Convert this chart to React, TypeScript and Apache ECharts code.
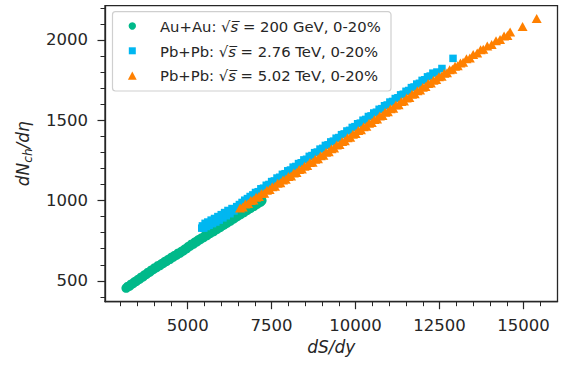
import React, { useEffect, useRef } from 'react';
import * as echarts from 'echarts';

const FONT = 'DejaVu Sans';
const INK = '#262626';
const GREEN = '#00b98a';
const BLUE = '#00b7f1';
const ORANGE = '#ff8000';

const seriesNames = [
  'Au+Au: √s = 200 GeV, 0-20%',
  'Pb+Pb: √s = 2.76 TeV, 0-20%',
  'Pb+Pb: √s = 5.02 TeV, 0-20%',
];

// Au+Au 200 GeV
const auAuX = [
  3170, 3220, 3270, 3320, 3370, 3420, 3470, 3520, 3570, 3620, 3670, 3720, 3770, 3820, 3870, 3920, 3970,
  4020, 4070, 4120, 4170, 4220, 4270, 4320, 4370, 4420, 4470, 4520, 4570, 4620, 4670, 4720, 4770, 4820, 4870, 4920, 4970,
  5020, 5070, 5120, 5170, 5220, 5270, 5320, 5370, 5420, 5470, 5520, 5570, 5620, 5670, 5720, 5770, 5820, 5870, 5920, 5970,
  6020, 6070, 6120, 6170, 6220, 6270, 6320, 6370, 6420, 6470, 6520, 6570, 6620, 6670, 6720, 6770, 6820, 6870, 6920, 6970,
  7020, 7070, 7120, 7170, 7210,
];
const auAuY = [
  455, 465, 467, 479, 482, 494, 496, 508, 511, 523, 525, 537, 540, 552, 554, 566, 569,
  580, 582, 594, 595, 606, 608, 620, 621, 632, 634, 646, 647, 658, 660, 672, 673, 684, 686, 698, 701,
  713, 716, 728, 729, 741, 743, 755, 756, 767, 769, 781, 782, 793, 795, 806, 807, 818, 820, 831, 832,
  843, 846, 857, 859, 871, 872, 884, 886, 897, 899, 910, 912, 923, 925, 937, 938, 949, 951, 962, 964,
  975, 977, 989, 990, 1000,
];

// Pb+Pb 2.76 TeV
const pb276X = [
  5420, 5440, 5480, 5520, 5560, 5600, 5640, 5700, 5740, 5800, 5840, 5900, 5940, 6000, 6050, 6100, 6150, 6200, 6260, 6320,
  6380, 6460, 6540, 6620, 6700, 6780, 6860, 6940,
  7020, 7100, 7180, 7260, 7340, 7420, 7500, 7580, 7660, 7740, 7820, 7900, 7980, 8060, 8140, 8220, 8300, 8380, 8460, 8540,
  8620, 8700, 8780, 8860, 8940, 9020, 9100, 9180, 9260, 9340, 9420, 9500, 9580, 9660, 9740, 9820, 9900, 9980, 10060, 10140,
  10220, 10300, 10380, 10460, 10540, 10620, 10700, 10780, 10860, 10940, 11020, 11100, 11180, 11260, 11340, 11420, 11500,
  11580, 11660, 11740, 11820, 11900, 11980, 12060, 12140, 12220, 12300, 12420, 12570, 12900,
];
const pb276Y = [
  828, 842, 828, 858, 838, 866, 846, 878, 856, 888, 866, 900, 878, 912, 892, 925, 905, 938, 918, 950,
  935, 962, 975, 988, 1002, 1012, 1025, 1035,
  1050, 1055, 1073, 1077, 1095, 1100, 1118, 1122, 1140, 1145, 1163, 1167, 1185, 1190, 1208, 1212, 1230, 1235, 1253, 1257,
  1275, 1280, 1298, 1302, 1320, 1325, 1343, 1347, 1365, 1370, 1388, 1392, 1410, 1415, 1433, 1437, 1455, 1460, 1478, 1482,
  1500, 1505, 1523, 1527, 1545, 1550, 1568, 1572, 1590, 1595, 1613, 1617, 1635, 1640, 1658, 1662, 1680,
  1685, 1703, 1707, 1725, 1730, 1748, 1752, 1770, 1775, 1793, 1800, 1822, 1885,
];

// Pb+Pb 5.02 TeV
const pb502X = [
  6560, 6640, 6720, 6800, 6880, 6960, 7040, 7120, 7200, 7280, 7360, 7440, 7520, 7600, 7680, 7760, 7840, 7920, 8000, 8080,
  8160, 8240, 8320, 8400, 8480, 8560, 8640, 8720, 8800, 8880, 8960, 9040, 9120, 9200, 9280, 9360, 9440, 9520, 9600, 9680,
  9760, 9840, 9920, 10000, 10080, 10160, 10240, 10320, 10400, 10480, 10560, 10640, 10720, 10800, 10880, 10960, 11040, 11120,
  11200, 11280, 11360, 11440, 11520, 11600, 11680, 11760, 11840, 11920, 12000, 12080, 12160, 12240, 12320, 12400, 12480,
  12560, 12640, 12720, 12800, 12880, 12960, 13040, 13120, 13200, 13300, 13400, 13500, 13620, 13720, 13800, 13920, 14050,
  14180, 14300, 14420, 14520, 14600, 14970, 15390,
];
const pb502Y = [
  953, 960, 978, 982, 1000, 1003, 1021, 1025, 1043, 1046, 1064, 1068, 1086, 1089, 1107, 1110, 1128, 1132, 1150, 1153,
  1171, 1175, 1193, 1196, 1214, 1218, 1236, 1239, 1257, 1260, 1278, 1282, 1301, 1304, 1323, 1327, 1346, 1349, 1368, 1372,
  1391, 1394, 1413, 1417, 1436, 1440, 1459, 1462, 1481, 1485, 1504, 1507, 1526, 1530, 1549, 1552, 1571, 1575,
  1594, 1597, 1616, 1620, 1639, 1642, 1662, 1665, 1684, 1688, 1706, 1710, 1728, 1731, 1749, 1753, 1771,
  1774, 1792, 1796, 1814, 1818, 1836, 1839, 1857, 1861, 1882, 1888, 1909, 1918, 1938, 1942, 1962, 1972,
  1995, 2003, 2024, 2028, 2050, 2083, 2133,
];

const xMajorTicks = [5000, 7500, 10000, 12500, 15000];
const xMinorTicks = [3000, 3500, 4000, 4500, 5500, 6000, 6500, 7000, 8000, 8500, 9000, 9500, 10500, 11000, 11500, 12000, 13000, 13500, 14000, 14500, 15500];
const yMajorTicks = [500, 1000, 1500, 2000];
const yMinorTicks = [400, 600, 700, 800, 900, 1100, 1200, 1300, 1400, 1600, 1700, 1800, 1900, 2100, 2200];

const X_MIN = 2540;
const X_MAX = 16010;
const Y_MIN = 370;
const Y_MAX = 2213;

const zip = (xs: number[], ys: number[]) => xs.map((x, i) => [x, ys[i]]);
const richName = (n: string) => n.replace('√s', '√{i|s\u0305}');

export default function App() {
  const ref = useRef<HTMLDivElement>(null);
  useEffect(() => {
    if (!ref.current) return;
    const chart = echarts.init(ref.current, undefined, { renderer: 'svg' });
    const labelStyle = {
      fontFamily: FONT, fontSize: 16.5, color: INK,
      formatter: (v: number) => String(v),
    };
    const baseAxis = {
      scale: true,
      splitLine: { show: false },
      axisLine: { show: true, lineStyle: { color: INK, width: 1.3 } },
    };
    const legendText = (y: number, name: string) => ({
      type: 'text',
      x: 160,
      y,
      style: {
        text: richName(name),
        fontFamily: FONT,
        fontSize: 14.8,
        fill: INK,
        verticalAlign: 'middle',
        align: 'left',
        rich: { i: { fontStyle: 'italic', fontFamily: FONT, fontSize: 14.8, fill: INK } },
      },
    });
    chart.setOption({
      animation: false,
      backgroundColor: '#ffffff',
      grid: {
        left: 105, right: 10.5, top: 5.7, bottom: 64.3,
        show: true, borderColor: INK, borderWidth: 1.3, backgroundColor: 'transparent',
      },
      graphic: [
        {
          type: 'group',
          z: 100,
          children: [
            {
              type: 'rect',
              shape: { x: 112.5, y: 11.7, width: 278.5, height: 79.3, r: 3 },
              style: { fill: 'rgba(255,255,255,0.85)', stroke: '#cfcfcf', lineWidth: 1.2 },
            },
            { type: 'circle', shape: { cx: 132.3, cy: 26, r: 3.7 }, style: { fill: GREEN } },
            { type: 'rect', shape: { x: 128.8, y: 47.3, width: 7, height: 7 }, style: { fill: BLUE } },
            {
              type: 'polygon',
              shape: { points: [[132.3, 71.5], [136.7, 79.7], [127.9, 79.7]] },
              style: { fill: ORANGE },
            },
            legendText(26, seriesNames[0]),
            legendText(51, seriesNames[1]),
            legendText(75.5, seriesNames[2]),
          ],
        },
      ],
      xAxis: [
        {
          ...baseAxis,
          type: 'value', position: 'bottom', min: X_MIN, max: X_MAX,
          axisTick: { show: true, length: 7.5, lineStyle: { color: INK, width: 1.2 }, customValues: xMajorTicks },
          axisLabel: { ...labelStyle, margin: 15, customValues: xMajorTicks },
          name: 'dS/dy', nameLocation: 'middle', nameGap: 35,
          nameTextStyle: { fontFamily: FONT, fontSize: 17, fontStyle: 'italic', color: INK },
        },
        {
          type: 'value', position: 'bottom', min: X_MIN, max: X_MAX,
          splitLine: { show: false },
          axisLine: { show: false },
          axisTick: { show: true, length: 4.5, lineStyle: { color: INK, width: 1 }, customValues: xMinorTicks },
          axisLabel: { show: false },
        },
      ],
      yAxis: [
        {
          ...baseAxis,
          type: 'value', position: 'left', min: Y_MIN, max: Y_MAX,
          axisTick: { show: true, length: 7.5, lineStyle: { color: INK, width: 1.2 }, customValues: yMajorTicks },
          axisLabel: { ...labelStyle, margin: 17, customValues: yMajorTicks },
          name: '{a|dN}{b|ch}{a|/dη}', nameLocation: 'middle', nameGap: 72, nameRotate: 90,
          nameTextStyle: {
            fontFamily: FONT, fontSize: 17, fontStyle: 'italic', color: INK,
            rich: {
              a: { fontFamily: FONT, fontSize: 17, fontStyle: 'italic', color: INK, lineHeight: 20 },
              b: { fontFamily: FONT, fontSize: 12, fontStyle: 'italic', color: INK, lineHeight: 12, padding: [10, 0, 0, 0] },
            },
          },
        },
        {
          type: 'value', position: 'left', min: Y_MIN, max: Y_MAX,
          splitLine: { show: false },
          axisLine: { show: false },
          axisTick: { show: true, length: 4.5, lineStyle: { color: INK, width: 1 }, customValues: yMinorTicks },
          axisLabel: { show: false },
        },
      ],
      series: [
        {
          type: 'scatter', name: seriesNames[0], data: zip(auAuX, auAuY),
          symbol: 'circle', symbolSize: 9.5, itemStyle: { color: GREEN, opacity: 1 }, z: 2,
        },
        {
          type: 'scatter', name: seriesNames[1], data: zip(pb276X, pb276Y),
          symbol: 'rect', symbolSize: 7.5, itemStyle: { color: BLUE, opacity: 1 }, z: 3,
        },
        {
          type: 'scatter', name: seriesNames[2], data: zip(pb502X, pb502Y),
          symbol: 'triangle', symbolSize: [10, 9], itemStyle: { color: ORANGE, opacity: 1 }, z: 4,
        },
      ],
    });
    return () => chart.dispose();
  }, []);
  return (
    <div
      ref={ref}
      style={{ position: 'absolute', left: 0, top: 0, width: 568, height: 366 }}
    />
  );
}
